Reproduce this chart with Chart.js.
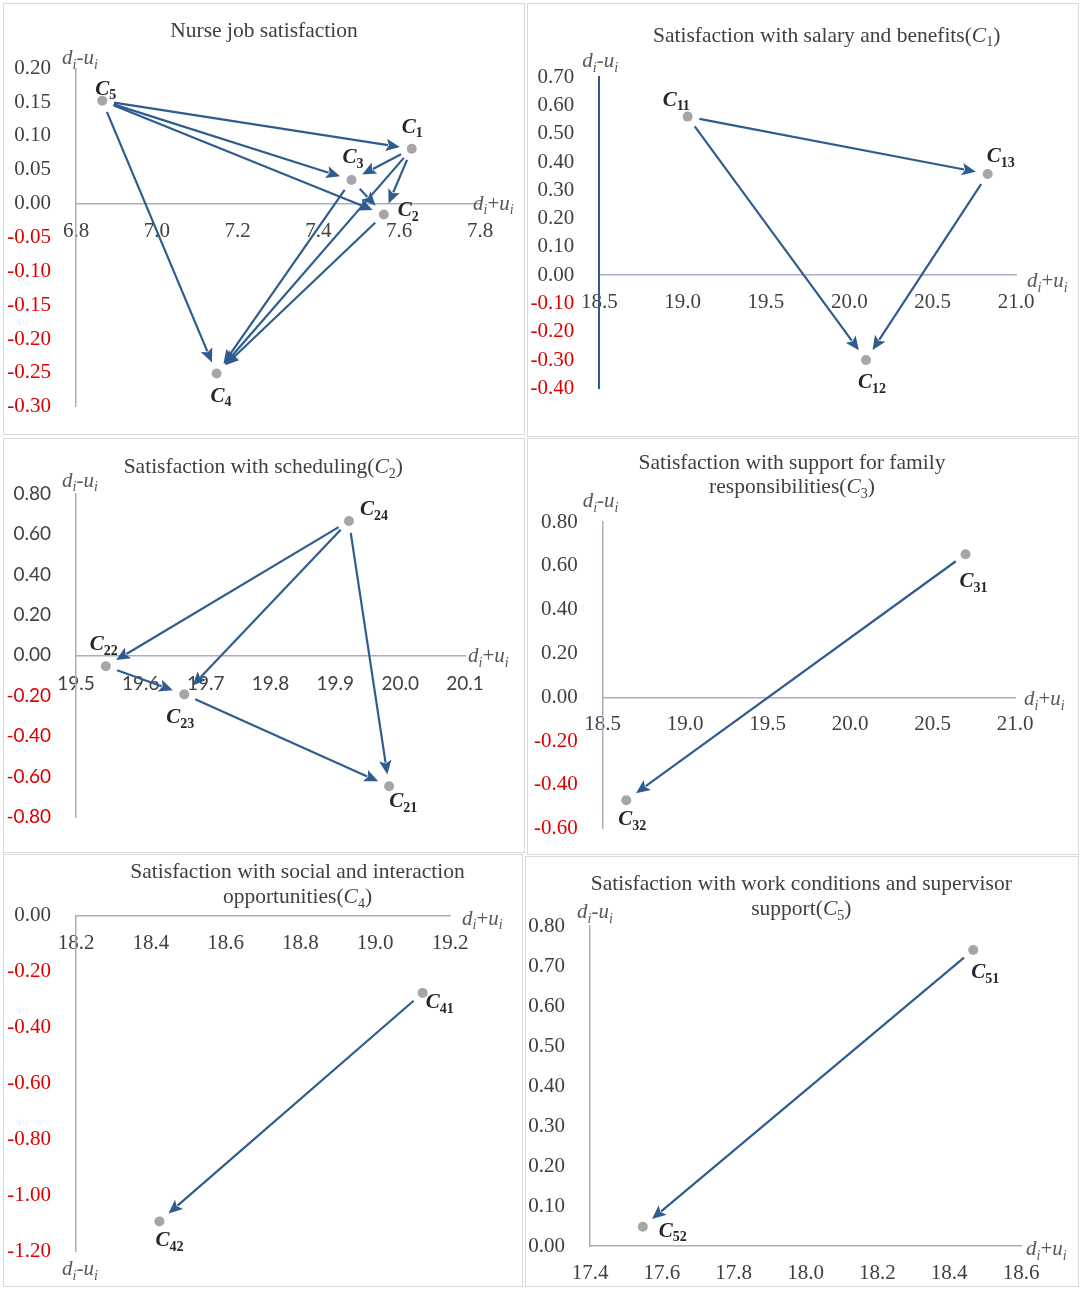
<!DOCTYPE html>
<html>
<head>
<meta charset="utf-8">
<title>Nurse job satisfaction</title>
<script src="https://cdn.jsdelivr.net/npm/chart.js@4.4.1/dist/chart.umd.min.js"></script>
<style>
body { margin: 0; background: #fff; }
#page { position: relative; width: 1084px; height: 1290px; }
.panel { position: absolute; border: 1px solid #d9d9d9; box-sizing: border-box; }
.panel canvas { position: absolute; left: 0; top: 0; }
</style>
</head>
<body>
<div id="page"></div>
<script>
// Nurse job satisfaction (C1..C5)
const mainNames = ['C1', 'C2', 'C3', 'C4', 'C5'];
const mainX = [7.631, 7.562, 7.482, 7.148, 6.865];
const mainY = [0.081, -0.016, 0.035, -0.251, 0.152];
const mainLinks = [[4, 0], [4, 2], [4, 1], [4, 3], [0, 2], [0, 1], [0, 3], [2, 1], [2, 3], [1, 3]];
const mainXTicks = [6.8, 7.0, 7.2, 7.4, 7.6, 7.8];
const mainYTicks = [-0.30, -0.25, -0.20, -0.15, -0.10, -0.05, 0.00, 0.05, 0.10, 0.15, 0.20];

// Salary and benefits (C1)
const c1Names = ['C11', 'C12', 'C13'];
const c1X = [19.03, 20.10, 20.83];
const c1Y = [0.561, -0.300, 0.358];
const c1Links = [[0, 2], [0, 1], [2, 1]];
const c1XTicks = [18.5, 19.0, 19.5, 20.0, 20.5, 21.0];
const c1YTicks = [-0.40, -0.30, -0.20, -0.10, 0.00, 0.10, 0.20, 0.30, 0.40, 0.50, 0.60, 0.70];

// Scheduling (C2)
const c2Names = ['C21', 'C22', 'C23', 'C24'];
const c2X = [19.983, 19.546, 19.667, 19.921];
const c2Y = [-0.648, -0.054, -0.193, 0.665];
const c2Links = [[3, 1], [3, 2], [3, 0], [1, 2], [2, 0]];
const c2XTicks = [19.5, 19.6, 19.7, 19.8, 19.9, 20.0, 20.1];
const c2YTicks = [-0.80, -0.60, -0.40, -0.20, 0.00, 0.20, 0.40, 0.60, 0.80];

// Support for family responsibilities (C3)
const c3Names = ['C31', 'C32'];
const c3X = [20.70, 18.643];
const c3Y = [0.653, -0.470];
const c3Links = [[0, 1]];
const c3XTicks = [18.5, 19.0, 19.5, 20.0, 20.5, 21.0];
const c3YTicks = [-0.60, -0.40, -0.20, 0.00, 0.20, 0.40, 0.60, 0.80];

// Social and interaction opportunities (C4)
const c4Names = ['C41', 'C42'];
const c4X = [19.127, 18.423];
const c4Y = [-0.276, -1.093];
const c4Links = [[0, 1]];
const c4XTicks = [18.2, 18.4, 18.6, 18.8, 19.0, 19.2];
const c4YTicks = [-1.20, -1.00, -0.80, -0.60, -0.40, -0.20, 0.00];

// Work conditions and supervisor support (C5)
const c5Names = ['C51', 'C52'];
const c5X = [18.467, 17.547];
const c5Y = [0.740, 0.048];
const c5Links = [[0, 1]];
const c5XTicks = [17.4, 17.6, 17.8, 18.0, 18.2, 18.4, 18.6];
const c5YTicks = [0.00, 0.10, 0.20, 0.30, 0.40, 0.50, 0.60, 0.70, 0.80];

const SERIF = '"Liberation Serif", "Times New Roman", serif';
const SANS = 'Lato, "Liberation Sans", sans-serif';
const DARK = '#404040';
const RED = '#dd0000';
const AXIS = '#a6b0bf';
const ARROW = '#2f5c8f';

// layout of each panel, page coordinates: box = [x, y, w, h], area = [left, top, right, bottom]
const panels = [
  { names: mainNames, xs: mainX, ys: mainY, links: mainLinks, xTicks: mainXTicks, yTicks: mainYTicks, yDigits: 2,
    box: [3, 3, 522, 432], area: [76, 68.3, 480, 406.7],
    title: [[['Nurse job satisfaction', 'r']]], titleX: 264, titleY: [37],
    labelOff: [[-10, -16], [14, 2], [-9, -17], [-6, 28], [-7, -6]],
    yTitle: { dx: -14, dy: -4, at: 'top' }, xTitle: [-7, 6] },
  { names: c1Names, xs: c1X, ys: c1Y, links: c1Links, xTicks: c1XTicks, yTicks: c1YTicks, yDigits: 2,
    box: [527, 3, 552, 434], area: [599.3, 77.3, 1016, 388.3],
    title: [[['Satisfaction with salary and benefits(', 'r'], ['C', 'i'], ['1', 's'], [')', 'r']]], titleX: 826.7, titleY: [41.5],
    labelOff: [[-25, -11], [-8, 28], [-1, -12]],
    yTitle: { dx: -17, dy: -10, at: 'top' }, xTitle: [11, 12], yAxisColor: ARROW, yAxisWidth: 2 },
  { names: c2Names, xs: c2X, ys: c2Y, links: c2Links, xTicks: c2XTicks, yTicks: c2YTicks, yDigits: 2,
    box: [3, 438, 522, 415], area: [76, 493.7, 465, 817],
    title: [[['Satisfaction with scheduling(', 'r'], ['C', 'i'], ['2', 's'], [')', 'r']]], titleX: 263.3, titleY: [473],
    labelOff: [[0, 21], [-16, -16], [-18, 29], [11, -6]],
    yTitle: { dx: -14, dy: -7, at: 'top' }, xTitle: [3, 7], tickFont: SANS, tickSize: 19, xPad: 17 },
  { names: c3Names, xs: c3X, ys: c3Y, links: c3Links, xTicks: c3XTicks, yTicks: c3YTicks, yDigits: 2,
    box: [527, 438, 552, 417], area: [602.7, 522, 1015, 828.7],
    title: [[['Satisfaction with support for family', 'r']],
            [['responsibilities(', 'r'], ['C', 'i'], ['3', 's'], [')', 'r']]], titleX: 792, titleY: [468.7, 493],
    labelOff: [[-6, 33], [-8, 25]],
    yTitle: { dx: -20, dy: -15, at: 'top' }, xTitle: [9, 8] },
  { names: c4Names, xs: c4X, ys: c4Y, links: c4Links, xTicks: c4XTicks, yTicks: c4YTicks, yDigits: 2,
    box: [3, 854, 520, 433], area: [76, 915.7, 450, 1251.3],
    title: [[['Satisfaction with social and interaction', 'r']],
            [['opportunities(', 'r'], ['C', 'i'], ['4', 's'], [')', 'r']]], titleX: 297.5, titleY: [878, 903],
    labelOff: [[3, 15], [-4, 25]],
    yTitle: { dx: -14, dy: 24, at: 'bottom' }, xTitle: [12, 9] },
  { names: c5Names, xs: c5X, ys: c5Y, links: c5Links, xTicks: c5XTicks, yTicks: c5YTicks, yDigits: 2,
    box: [525, 856, 554, 431], area: [590, 926, 1021, 1246],
    title: [[['Satisfaction with work conditions and supervisor', 'r']],
            [['support(', 'r'], ['C', 'i'], ['5', 's'], [')', 'r']]], titleX: 801.3, titleY: [890, 915],
    labelOff: [[-2, 28], [16, 10]],
    yTitle: { dx: -13, dy: -8, at: 'top' }, xTitle: [5, 9] }
];

function segFont(style, size) {
  const sub = Math.round(size * 0.66);
  if (style === 'i') return `italic ${size}px ${SERIF}`;
  if (style === 's') return `${sub}px ${SERIF}`;
  if (style === 'si') return `italic ${sub}px ${SERIF}`;
  if (style === 'bi') return `italic bold ${size}px ${SERIF}`;
  if (style === 'bs') return `bold ${sub}px ${SERIF}`;
  return `${size}px ${SERIF}`;
}

function drawRich(ctx, segs, x, y, size, color, align) {
  let total = 0;
  const widths = segs.map(([t, st]) => {
    ctx.font = segFont(st, size);
    const w = ctx.measureText(t).width;
    total += w;
    return w;
  });
  let cx = align === 'center' ? x - total / 2 : x;
  ctx.fillStyle = color;
  ctx.textAlign = 'left';
  ctx.textBaseline = 'alphabetic';
  segs.forEach(([t, st], i) => {
    ctx.font = segFont(st, size);
    const sub = st === 's' || st === 'si' || st === 'bs';
    ctx.fillText(t, cx, y + (sub ? size * 0.22 : 0));
    cx += widths[i];
  });
}

const yTitleSegs = [['d', 'i'], ['i', 'si'], ['-', 'i'], ['u', 'i'], ['i', 'si']];
const xTitleSegs = [['d', 'i'], ['i', 'si'], ['+', 'r'], ['u', 'i'], ['i', 'si']];

// arrows, point labels, axis titles and panel title
const decor = {
  id: 'decor',
  afterDraw(chart) {
    const p = chart.options.plugins.decor.panel;
    const ctx = chart.ctx;
    const ox = p.box[0] + 1, oy = p.box[1] + 1;
    const area = chart.chartArea;
    const meta = chart.getDatasetMeta(0);
    ctx.save();

    ctx.strokeStyle = ARROW;
    ctx.fillStyle = ARROW;
    ctx.lineWidth = 2.2;
    const gap = 12, headLen = 14, headW = 6.2;
    p.links.forEach(([a, b]) => {
      const pa = meta.data[a], pb = meta.data[b];
      const dx = pb.x - pa.x, dy = pb.y - pa.y;
      const len = Math.hypot(dx, dy);
      const ux = dx / len, uy = dy / len;
      const sx = pa.x + ux * gap, sy = pa.y + uy * gap;
      const ex = pb.x - ux * gap, ey = pb.y - uy * gap;
      const hx = ex - ux * headLen, hy = ey - uy * headLen;
      ctx.beginPath();
      ctx.moveTo(sx, sy);
      ctx.lineTo(hx + ux * 2, hy + uy * 2);
      ctx.stroke();
      ctx.beginPath();
      ctx.moveTo(ex, ey);
      ctx.lineTo(hx - uy * headW, hy + ux * headW);
      ctx.lineTo(hx + ux * 3, hy + uy * 3);
      ctx.lineTo(hx + uy * headW, hy - ux * headW);
      ctx.closePath();
      ctx.fill();
    });

    p.names.forEach((name, i) => {
      const pt = meta.data[i];
      const [dx, dy] = p.labelOff[i];
      drawRich(ctx, [[name.slice(0, 1), 'bi'], [name.slice(1), 'bs']], pt.x + dx, pt.y + dy, 21, '#262626', 'left');
    });

    const zeroY = chart.scales.y.getPixelForValue(0);
    const yt = p.yTitle;
    drawRich(ctx, yTitleSegs, area.left + yt.dx, (yt.at === 'top' ? area.top : area.bottom) + yt.dy, 21, '#595959', 'left');
    drawRich(ctx, xTitleSegs, area.right + p.xTitle[0], zeroY + p.xTitle[1], 21, '#595959', 'left');

    p.title.forEach((line, i) => {
      drawRich(ctx, line, p.titleX - ox, p.titleY[i] - oy, 21.5, DARK, 'center');
    });
    ctx.restore();
  }
};

function fmt(v, digits) {
  if (Math.abs(v) < 1e-9) v = 0;
  return v.toFixed(digits);
}

function makeChart(p) {
  const page = document.getElementById('page');
  const div = document.createElement('div');
  div.className = 'panel';
  div.style.left = p.box[0] + 'px';
  div.style.top = p.box[1] + 'px';
  div.style.width = p.box[2] + 'px';
  div.style.height = p.box[3] + 'px';
  const canvas = document.createElement('canvas');
  const cw = p.box[2] - 2, ch = p.box[3] - 2;
  canvas.width = cw;
  canvas.height = ch;
  div.appendChild(canvas);
  page.appendChild(div);

  const ox = p.box[0] + 1, oy = p.box[1] + 1;
  const [L, T, R, B] = p.area;
  const tickFont = { family: p.tickFont || SERIF, size: p.tickSize || 21 };

  new Chart(canvas, {
    type: 'scatter',
    data: {
      datasets: [{
        data: p.xs.map((x, i) => ({ x: x, y: p.ys[i] })),
        pointRadius: 5,
        pointHoverRadius: 5,
        backgroundColor: '#a6a6a6',
        borderWidth: 0
      }]
    },
    options: {
      responsive: false,
      animation: false,
      events: [],
      layout: { padding: { left: 0, top: T - oy, right: cw - (R - ox), bottom: ch - (B - oy) } },
      plugins: {
        legend: { display: false },
        tooltip: { enabled: false },
        decor: { panel: p }
      },
      scales: {
        x: {
          type: 'linear',
          min: p.xTicks[0],
          max: p.xTicks[p.xTicks.length - 1],
          position: { y: 0 },
          grid: { display: false, drawTicks: false },
          border: { display: true, color: AXIS, width: 1.5 },
          afterBuildTicks: s => { s.ticks = p.xTicks.map(v => ({ value: v })); },
          // the axis sits at y = 0, so it must not claim room of its own
          afterFit: s => { s.height = 0; s.paddingLeft = 0; s.paddingRight = 0; },
          ticks: {
            font: tickFont,
            color: DARK,
            padding: p.xPad || 15,
            autoSkip: false,
            maxRotation: 0,
            callback: v => fmt(v, 1)
          }
        },
        y: {
          type: 'linear',
          position: 'left',
          min: p.yTicks[0],
          max: p.yTicks[p.yTicks.length - 1],
          grid: { display: false, drawTicks: false },
          border: { display: true, color: p.yAxisColor || AXIS, width: p.yAxisWidth || 1.5 },
          afterBuildTicks: s => { s.ticks = p.yTicks.map(v => ({ value: v })); },
          afterFit: s => { s.width = L - ox; s.paddingTop = 0; s.paddingBottom = 0; },
          ticks: {
            font: tickFont,
            color: c => (c.tick && c.tick.value < -1e-9 ? RED : DARK),
            padding: 25,
            autoSkip: false,
            callback: v => fmt(v, p.yDigits)
          }
        }
      }
    },
    plugins: [decor]
  });
}

panels.forEach(makeChart);
</script>
</body>
</html>
